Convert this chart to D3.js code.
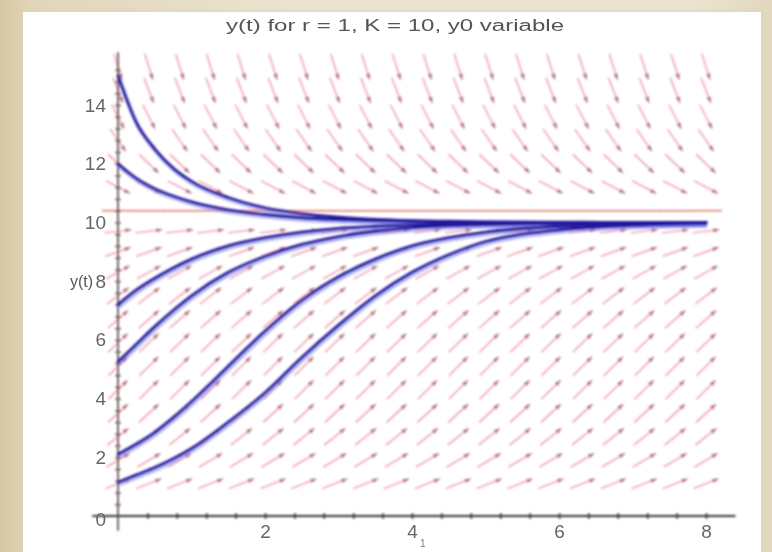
<!DOCTYPE html>
<html><head><meta charset="utf-8">
<script src="https://cdn.jsdelivr.net/npm/d3@7"></script>
<style>
html,body{margin:0;padding:0;}
body{width:772px;height:552px;overflow:hidden;background:linear-gradient(90deg,#d6c7a2 0%,#e2d6ba 4%,#ebe4d1 40%,#ebe3cf 90%,#e2d8bf 100%);}
svg{display:block;}
</style></head><body>
<svg id="chart" width="772" height="552"></svg>
<script>
// ---------- data ----------
const title = "y(t) for r = 1, K = 10, y0 variable";
const yAxisLabel = "y(t)";
const xTickLabels = [2, 4, 6, 8];
const yTickLabels = [2, 4, 6, 8, 10, 12, 14];
const originLabel = "0";
const xMinorTicks = [0.4,0.8,1.2,1.6,2.0,2.4,2.8,3.2,3.6,4.0,4.4,4.8,5.2,5.6,6.0,6.4,6.8,7.2,7.6,8.0];
const yMinorTicks = [0.4,0.8,1.2,1.6,2.0,2.4,2.8,3.2,3.6,4.0,4.4,4.8,5.2,5.6,6.0,6.4,6.8,7.2,7.6,8.0,8.4,8.8,9.2,9.6,10.0,10.4,10.8,11.2,11.6,12.0,12.4,12.8,13.2,13.6,14.0,14.4,14.8,15.2];

// direction field grid (t columns, y rows, slope dy/dt per row)
const fieldT = [0,0.42,0.84,1.26,1.68,2.11,2.53,2.95,3.37,3.79,4.21,4.63,5.05,5.47,5.89,6.32,6.74,7.16,7.58,8.0];
const fieldRowY = [1.1,1.9,2.7,3.5,4.3,5.1,5.9,6.7,7.5,8.3,9.0,9.7,10.4,11.2,12.0,12.8,13.6,14.5,15.3];
const fieldRowSlope = [1.0,1.5,2.0,2.3,2.45,2.5,2.4,2.2,1.9,1.4,0.9,0.3,0,-1.3,-2.4,-3.6,-4.9,-6.5,-7.9];

// solution curves y(t)
const solT = [0,0.25,0.5,0.75,1,1.5,2,2.5,3,3.5,4,4.5,5,6,7,8];
const solY0_1  = [1.15,1.4,1.65,1.95,2.3,3.2,4.2,5.4,6.5,7.5,8.3,8.9,9.35,9.75,9.9,9.97];
const solY0_2  = [2.1,2.45,2.85,3.35,3.9,5.1,6.3,7.35,8.15,8.75,9.2,9.48,9.67,9.87,9.95,9.98];
const solY0_5  = [5.25,5.85,6.45,7.0,7.5,8.3,8.85,9.25,9.52,9.7,9.82,9.89,9.93,9.97,9.99,10];
const solY0_7  = [7.2,7.7,8.1,8.45,8.75,9.2,9.48,9.67,9.8,9.87,9.92,9.95,9.97,9.99,10,10];
const solY0_12 = [12.0,11.5,11.15,10.9,10.7,10.43,10.27,10.16,10.1,10.06,10.04,10.02,10.01,10,10,10];
const solY0_15 = [15.0,13.4,12.5,11.85,11.4,10.85,10.5,10.3,10.18,10.1,10.06,10.04,10.02,10.01,10,10];
const solutions = [solY0_1, solY0_2, solY0_5, solY0_7, solY0_12, solY0_15];

// ---------- drawing ----------
const svg = d3.select("#chart");
const defs = svg.append("defs");
defs.append("filter").attr("id","soft").attr("x","-5%").attr("y","-5%").attr("width","110%").attr("height","110%")
  .append("feGaussianBlur").attr("stdDeviation",0.9);
defs.append("filter").attr("id","softText").attr("x","-10%").attr("y","-20%").attr("width","120%").attr("height","140%")
  .append("feGaussianBlur").attr("stdDeviation",0.6);
const pf = defs.append("filter").attr("id","panelShadow");
pf.append("feGaussianBlur").attr("stdDeviation",2);

svg.append("rect").attr("x",22).attr("y",11).attr("width",740).attr("height",548)
  .attr("fill","#d9ceb2").attr("filter","url(#panelShadow)").attr("opacity",0.6);
svg.append("rect").attr("x",23).attr("y",12).attr("width",738).attr("height",545).attr("fill","#ffffff");

const g = svg.append("g").attr("filter","url(#soft)");
const gt = svg.append("g").attr("filter","url(#softText)");

const x = d3.scaleLinear().domain([0, 8]).range([118, 706]);
const y = d3.scaleLinear().domain([0, 14]).range([516, 105]);

// direction field
const arrows = [];
fieldT.forEach(t => fieldRowY.forEach((v, i) => arrows.push({t, v, s: fieldRowSlope[i]})));
const L = 27, H = 6, W = 2.2;
const fg = g.append("g");
arrows.forEach(a => {
  const cx = x(a.t), cy = y(a.v);
  let ux = x(1) - x(0), uy = y(a.s) - y(0);
  const n = Math.hypot(ux, uy); ux /= n; uy /= n;
  const flat = a.s === 0;
  const len = flat ? 32 : L;
  const x1 = cx - ux*len/2, y1 = cy - uy*len/2, x2 = cx + ux*len/2, y2 = cy + uy*len/2;
  fg.append("line").attr("x1",x1).attr("y1",y1).attr("x2",x2).attr("y2",y2)
    .attr("stroke", flat ? "#e07262" : "#ee8d9e").attr("stroke-width", flat ? 1.5 : 1.4)
    .attr("opacity", flat ? 0.95 : 0.9);
  if (!flat) {
    const bx = x2 - ux*H, by = y2 - uy*H;
    fg.append("path")
      .attr("d", `M${x2},${y2}L${bx - uy*W},${by + ux*W}L${bx + uy*W},${by - ux*W}Z`)
      .attr("fill","#9c6470").attr("opacity",0.85);
  }
});

// axes
const axisColor = "#333";
g.append("line").attr("x1", x(-0.35)).attr("x2", x(8.4)).attr("y1", y(0)).attr("y2", y(0))
  .attr("stroke", axisColor).attr("stroke-width", 1.8);
g.append("line").attr("x1", x(0)).attr("x2", x(0)).attr("y1", y(15.8)).attr("y2", y(-0.5))
  .attr("stroke", "#5a4848").attr("stroke-width", 1.7);

const xMinor = g.append("g").attr("transform", `translate(0,${y(0) - 3})`)
  .call(d3.axisBottom(x).tickValues(xMinorTicks).tickSizeInner(6).tickSizeOuter(0).tickFormat(""));
xMinor.select(".domain").remove();
xMinor.selectAll("line").attr("stroke", axisColor).attr("stroke-width", 1.4);

const yMinor = g.append("g").attr("transform", `translate(${x(0) + 3},0)`)
  .call(d3.axisLeft(y).tickValues(yMinorTicks).tickSizeInner(6).tickSizeOuter(0).tickFormat(""));
yMinor.select(".domain").remove();
yMinor.selectAll("line").attr("stroke", "#6a5555").attr("stroke-width", 1.3);

const labelFont = "Liberation Sans, Arial, sans-serif";
const xLab = gt.append("g").attr("transform", `translate(0,${y(0)})`)
  .call(d3.axisBottom(x).tickValues(xTickLabels).tickSize(0).tickPadding(9).tickFormat(d3.format("d")));
xLab.select(".domain").remove();
xLab.selectAll("text").attr("font-size", 19).attr("font-family", labelFont).attr("fill", "#666");

const yLab = gt.append("g").attr("transform", `translate(${x(0)},0)`)
  .call(d3.axisLeft(y).tickValues(yTickLabels).tickSize(0).tickPadding(12).tickFormat(d3.format("d")));
yLab.select(".domain").remove();
yLab.selectAll("text").attr("font-size", 19).attr("font-family", labelFont).attr("fill", "#666");

gt.append("text").attr("x", x(0) - 12).attr("y", y(0) + 10).attr("text-anchor","end")
  .attr("font-size", 19).attr("font-family", labelFont).attr("fill", "#666").text(originLabel);

gt.append("text").attr("x", x(0) - 25).attr("y", y(8)).attr("dy","0.35em").attr("text-anchor","end")
  .attr("font-size", 16).attr("font-family", labelFont).attr("fill", "#555").text(yAxisLabel);

// small cursor mark under "4"
gt.append("text").attr("x", x(4) + 8).attr("y", 547).attr("font-size", 10)
  .attr("font-family", labelFont).attr("fill", "#777").text("1");

// solution curves
const line = d3.line().x((d, i) => x(solT[i])).y(d => y(d)).curve(d3.curveMonotoneX);
const sg = g.append("g");
solutions.forEach(s => {
  sg.append("path").attr("d", line(s)).attr("fill","none").attr("stroke","#7e80f0")
    .attr("stroke-width", 4.4).attr("opacity", 0.55).attr("transform","translate(1,2)");
});
solutions.forEach(s => {
  sg.append("path").attr("d", line(s)).attr("fill","none").attr("stroke","#22189a")
    .attr("stroke-width", 2.8).attr("stroke-linecap","round");
});

// title
gt.append("text").attr("x", 395).attr("y", 31).attr("text-anchor","middle")
  .attr("font-size", 16).attr("font-family", labelFont).attr("fill", "#555")
  .attr("textLength", 338).attr("lengthAdjust","spacingAndGlyphs").text(title);
</script>
</body></html>
